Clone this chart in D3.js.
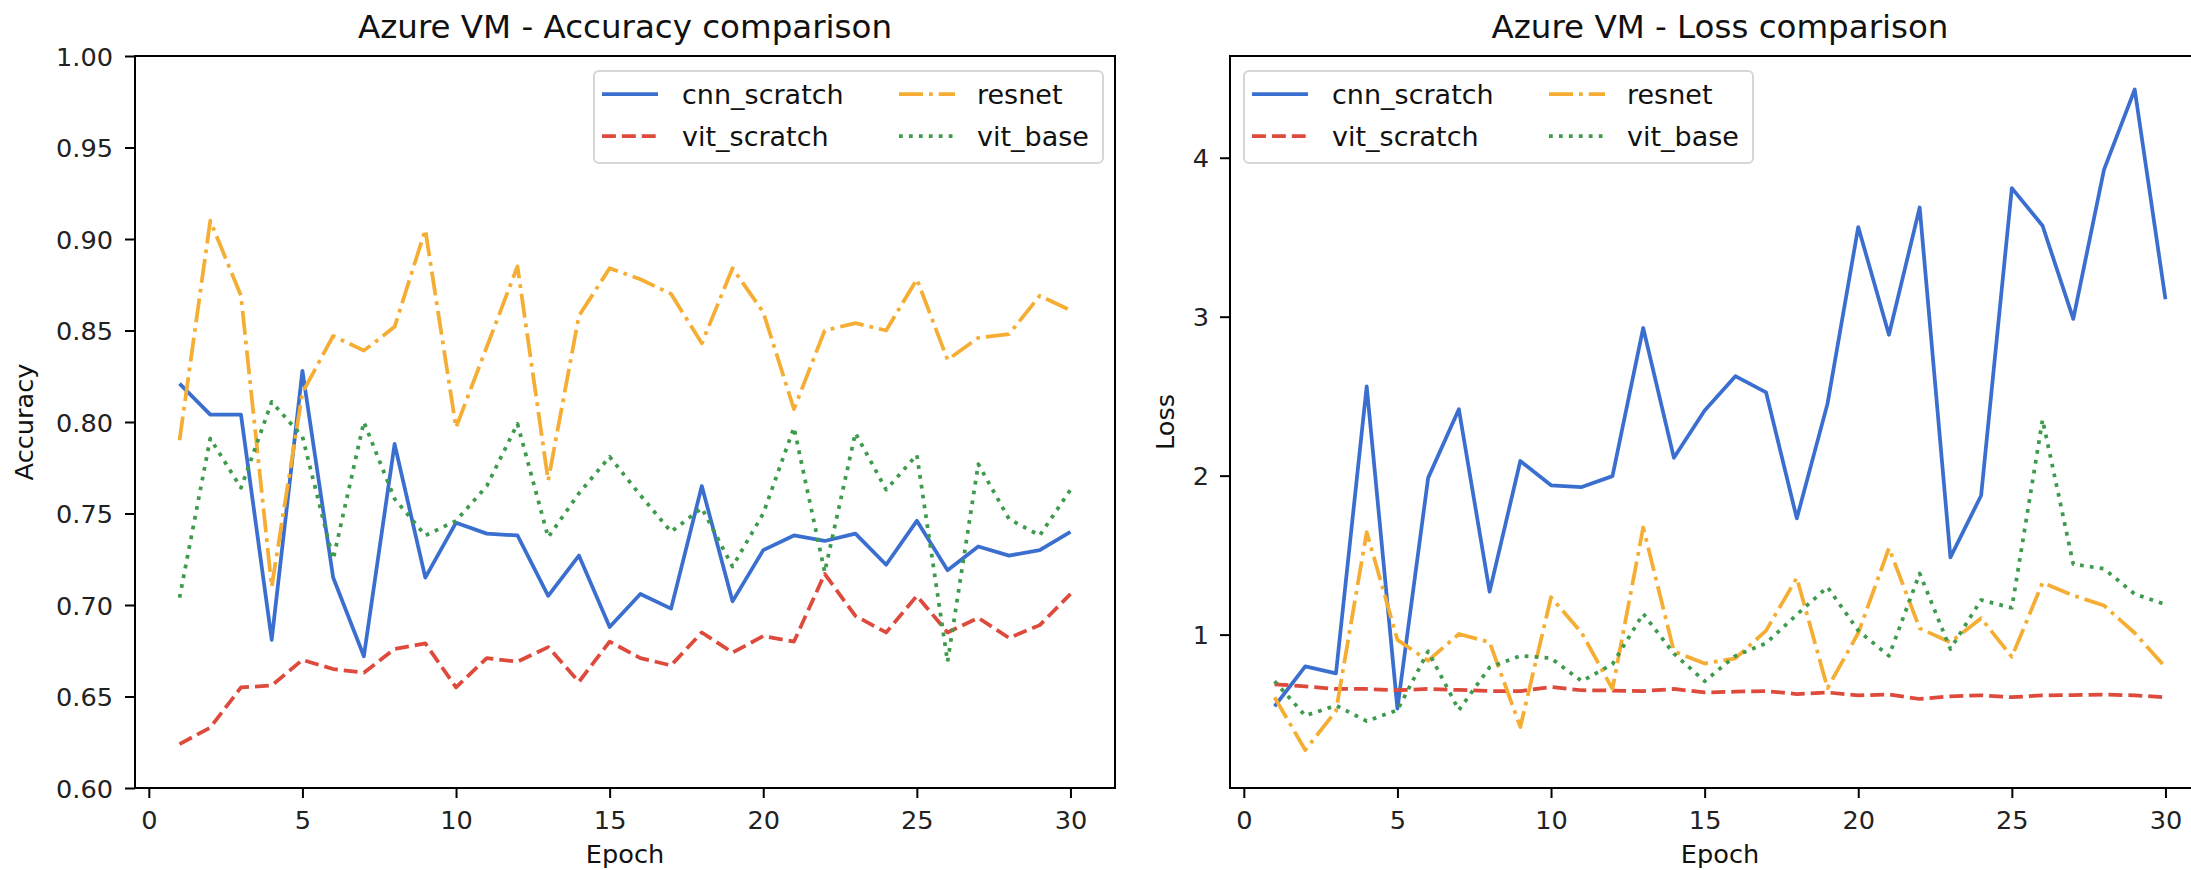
<!DOCTYPE html>
<html>
<head>
<meta charset="utf-8">
<script src="https://cdn.jsdelivr.net/npm/d3@7"></script>
<style>
  html, body { margin: 0; padding: 0; background: #fff; }
  svg { display: block; font-family: "DejaVu Sans", sans-serif; }
</style>
</head>
<body>
<svg id="chart" width="2191" height="870"></svg>
<script>
// ---------------- DATA ----------------
const epochs = [1,2,3,4,5,6,7,8,9,10,11,12,13,14,15,16,17,18,19,20,21,22,23,24,25,26,27,28,29,30];

const accCnnScratch = [0.821,0.804,0.804,0.681,0.828,0.715,0.672,0.788,0.715,0.745,0.739,0.738,0.705,0.727,0.688,0.706,0.698,0.765,0.702,0.730,0.738,0.735,0.739,0.722,0.746,0.719,0.732,0.727,0.730,0.740];
const accVitScratch = [0.624,0.633,0.655,0.656,0.670,0.665,0.663,0.676,0.679,0.655,0.671,0.669,0.677,0.658,0.680,0.671,0.667,0.685,0.674,0.683,0.680,0.717,0.694,0.685,0.705,0.685,0.693,0.682,0.689,0.706];
const accResnet     = [0.790,0.910,0.869,0.710,0.816,0.847,0.839,0.852,0.905,0.797,0.841,0.885,0.768,0.858,0.884,0.878,0.870,0.843,0.884,0.860,0.807,0.850,0.854,0.850,0.878,0.834,0.846,0.848,0.869,0.861];
const accVitBase    = [0.704,0.791,0.764,0.811,0.792,0.725,0.800,0.758,0.738,0.746,0.765,0.799,0.737,0.761,0.781,0.760,0.740,0.753,0.721,0.750,0.797,0.718,0.794,0.763,0.782,0.669,0.777,0.747,0.738,0.763];

const lossCnnScratch = [0.548,0.800,0.756,2.562,0.535,1.986,2.418,1.270,2.092,1.939,1.928,1.997,2.929,2.112,2.410,2.626,2.524,1.731,2.453,3.564,2.886,3.687,1.486,1.875,3.809,3.572,2.986,3.925,4.429,3.110];
const lossVitScratch = [0.687,0.675,0.658,0.658,0.650,0.658,0.652,0.645,0.645,0.670,0.650,0.648,0.645,0.658,0.636,0.641,0.645,0.626,0.636,0.618,0.623,0.595,0.612,0.618,0.606,0.618,0.620,0.623,0.618,0.606];
const lossResnet     = [0.606,0.274,0.520,1.645,0.967,0.836,1.004,0.952,0.419,1.235,1.010,0.658,1.674,0.895,0.818,0.851,1.025,1.357,0.664,1.010,1.544,1.039,0.952,1.103,0.860,1.327,1.246,1.183,1.010,0.794];
const lossVitBase    = [0.707,0.490,0.554,0.456,0.525,0.895,0.525,0.794,0.866,0.852,0.707,0.814,1.131,0.880,0.707,0.866,0.946,1.126,1.299,1.025,0.866,1.385,0.909,1.218,1.168,2.352,1.443,1.414,1.255,1.189];

const seriesNames = ["cnn_scratch", "vit_scratch", "resnet", "vit_base"];
const xTicks = [0, 5, 10, 15, 20, 25, 30];
const accTicks = [0.60, 0.65, 0.70, 0.75, 0.80, 0.85, 0.90, 0.95, 1.00];
const lossTicks = [1, 2, 3, 4];
const accDomain = [0.60, 1.00];
const lossDomain = [0.035, 4.64];
const xDomain = [-0.45, 31.45];

// ---------------- STYLE ----------------
const styles = {
  cnn_scratch: { color: "#3b6fcf", dash: null },
  vit_scratch: { color: "#de4a3b", dash: "13.9,6" },
  resnet:      { color: "#f5ae33", dash: "24,6,3.75,6" },
  vit_base:    { color: "#3e9a4c", dash: "3.75,6.2" }
};
const LW = 3.75;
const FS = 25.6;
const LEG_FS = 27;

const svg = d3.select("#chart");

function drawPanel(opt) {
  const left = opt.left, top = 56, width = 980, height = 732;
  const g = svg.append("g");
  const x = d3.scaleLinear().domain(xDomain).range([left, left + width]);
  const y = d3.scaleLinear().domain(opt.yDomain).range([top + height, top]);

  // lines
  const line = d3.line().x((d, i) => x(epochs[i])).y(d => y(d));
  opt.series.forEach((vals, k) => {
    const st = styles[seriesNames[k]];
    g.append("path")
      .datum(vals)
      .attr("d", line)
      .attr("fill", "none")
      .attr("stroke", st.color)
      .attr("stroke-width", LW)
      .attr("stroke-linejoin", "round")
      .attr("stroke-dasharray", st.dash);
  });

  // frame
  g.append("rect")
    .attr("x", left).attr("y", top).attr("width", width).attr("height", height)
    .attr("fill", "none").attr("stroke", "#000").attr("stroke-width", 2);

  // x axis
  const xa = g.append("g").attr("transform", `translate(0,${top + height})`)
    .call(d3.axisBottom(x).tickValues(xTicks).tickSize(10).tickPadding(12).tickFormat(d3.format("d")));
  xa.select(".domain").remove();
  xa.selectAll(".tick line").attr("stroke", "#000").attr("stroke-width", 2);
  xa.selectAll(".tick text").attr("font-size", FS).attr("fill", "#222")
    .attr("font-family", "DejaVu Sans").attr("dy", "0.75em");

  // y axis
  const ya = g.append("g").attr("transform", `translate(${left},0)`)
    .call(d3.axisLeft(y).tickValues(opt.yTicks).tickSize(10).tickPadding(opt.yPad).tickFormat(opt.yFormat));
  ya.select(".domain").remove();
  ya.selectAll(".tick line").attr("stroke", "#000").attr("stroke-width", 2);
  ya.selectAll(".tick text").attr("font-size", FS).attr("fill", "#222")
    .attr("font-family", "DejaVu Sans").attr("dy", "0.36em");

  // title
  g.append("text").attr("x", left + width / 2).attr("y", 38)
    .attr("text-anchor", "middle").attr("font-size", 32.5).attr("fill", "#111")
    .text(opt.title);
  // x label
  g.append("text").attr("x", left + width / 2).attr("y", 863)
    .attr("text-anchor", "middle").attr("font-size", FS).attr("fill", "#111")
    .text("Epoch");
  // y label
  g.append("text")
    .attr("transform", `translate(${opt.yLabelX},${top + height / 2}) rotate(-90)`)
    .attr("text-anchor", "middle").attr("font-size", FS).attr("fill", "#111")
    .text(opt.yLabel);

  // legend
  const lx = opt.legendX, ly = 71, lw = 509, lh = 92;
  const lg = g.append("g");
  lg.append("rect").attr("x", lx).attr("y", ly).attr("width", lw).attr("height", lh)
    .attr("rx", 5).attr("ry", 5)
    .attr("fill", "#fff").attr("fill-opacity", 0.8)
    .attr("stroke", "#d6d6d6").attr("stroke-width", 2);
  const pos = [
    { hx: 8, tx: 88, row: 0 },   // cnn_scratch
    { hx: 8, tx: 88, row: 1 },   // vit_scratch
    { hx: 305, tx: 383, row: 0 },// resnet
    { hx: 305, tx: 383, row: 1 } // vit_base
  ];
  seriesNames.forEach((name, k) => {
    const p = pos[k];
    const cy = ly + 23 + p.row * 42;
    const st = styles[name];
    lg.append("line").attr("x1", lx + p.hx).attr("x2", lx + p.hx + 56)
      .attr("y1", cy).attr("y2", cy)
      .attr("stroke", st.color).attr("stroke-width", LW)
      .attr("stroke-dasharray", st.dash);
    lg.append("text").attr("x", lx + p.tx).attr("y", cy).attr("dy", "0.36em")
      .attr("font-size", LEG_FS).attr("fill", "#111").text(name);
  });
}

drawPanel({
  left: 135,
  yDomain: accDomain,
  yTicks: accTicks,
  yFormat: d3.format(".2f"),
  yPad: 12,
  series: [accCnnScratch, accVitScratch, accResnet, accVitBase],
  title: "Azure VM - Accuracy comparison",
  yLabel: "Accuracy",
  yLabelX: 33,
  legendX: 594
});

drawPanel({
  left: 1230,
  yDomain: lossDomain,
  yTicks: lossTicks,
  yFormat: d3.format("d"),
  yPad: 11,
  series: [lossCnnScratch, lossVitScratch, lossResnet, lossVitBase],
  title: "Azure VM - Loss comparison",
  yLabel: "Loss",
  yLabelX: 1174,
  legendX: 1244
});
</script>
</body>
</html>
